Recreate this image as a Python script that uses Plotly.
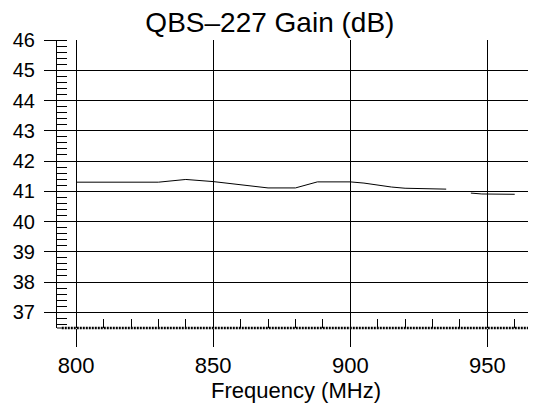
import plotly.graph_objects as go

freq_mhz = [800, 830, 840, 850, 870, 880, 888, 900, 905, 915, 920, 932, 935, None, 944, 948, 960]
gain_db = [41.30, 41.30, 41.39, 41.32, 41.11, 41.11, 41.31, 41.31, 41.27, 41.14, 41.10, 41.09, 41.07, None, 40.94, 40.91, 40.90]

x_ticks = [800, 850, 900, 950]
y_ticks = [37, 38, 39, 40, 41, 42, 43, 44, 45, 46]

FONT = "Liberation Sans, Arial, sans-serif"

fig = go.Figure()
fig.add_trace(go.Scatter(x=freq_mhz, y=gain_db, mode="lines",
                         line=dict(color="black", width=1), connectgaps=False,
                         showlegend=False, hoverinfo="skip"))

fig.update_layout(
    width=528, height=399,
    margin=dict(l=49, r=1, t=32, b=79),
    paper_bgcolor="white", plot_bgcolor="white",
    title=dict(text="QBS\u2013227 Gain (dB)", x=0.496, xanchor="center",
               y=0.99, yanchor="top", yref="container",
               font=dict(family=FONT, size=28, color="black")),
    font=dict(family=FONT, color="black"),
)

fig.update_xaxes(
    range=[793, 967.4], tickmode="array", tickvals=x_ticks,
    ticks="outside", ticklen=18, tickcolor="black", tickwidth=1,
    showgrid=True, gridcolor="black", gridwidth=1,
    showline=False, zeroline=False,
    tickfont=dict(family=FONT, size=22, color="black"),
    ticklabelstandoff=0,
    minor=dict(ticks="inside", ticklen=9, dtick=10, tick0=800,
               tickcolor="black", tickwidth=1, showgrid=False),
    title=dict(text="Frequency (MHz)", standoff=3,
               font=dict(family=FONT, size=22, color="black")),
)

fig.update_yaxes(
    range=[36.48, 46], tickmode="array", tickvals=y_ticks,
    ticks="outside", ticklen=12, tickcolor="black", tickwidth=1,
    showgrid=True, gridcolor="black", gridwidth=1,
    showline=True, linecolor="black", linewidth=1, mirror=False,
    zeroline=False,
    tickfont=dict(family=FONT, size=20, color="black"),
    ticklabelstandoff=5,
    minor=dict(ticks="inside", ticklen=10, dtick=0.2, tick0=36,
               tickcolor="black", tickwidth=1, showgrid=False),
)

# dotted bottom border and dashed right border
fig.add_shape(type="line", xref="paper", yref="paper", x0=0.01, x1=1, y0=0, y1=0,
              line=dict(color="black", width=2.5, dash="2px,1px"))
fig.add_shape(type="line", xref="paper", yref="paper", x0=0, x1=0.01, y0=0, y1=0,
              line=dict(color="black", width=1))
fig.add_shape(type="line", xref="paper", yref="paper", x0=1, x1=1, y0=0, y1=1,
              line=dict(color="black", width=1, dash="2px,2px"))

fig.write_html("out.html")
